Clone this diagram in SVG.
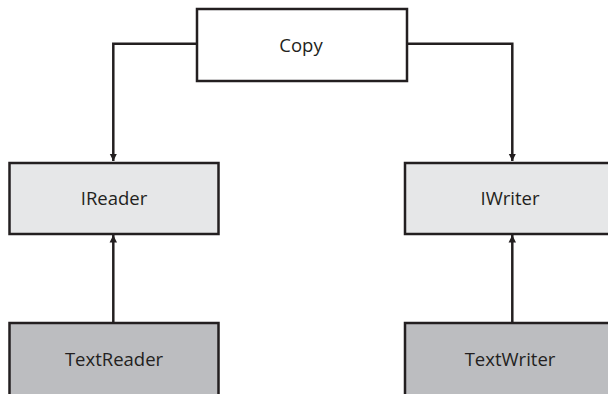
<svg xmlns="http://www.w3.org/2000/svg" width="608" height="394" viewBox="0 0 608 394">
<style>
.box{stroke:#231f20;stroke-width:2.5}
.top{fill:#ffffff}
.mid{fill:#e6e7e8}
.bot{fill:#bcbdc0}
.lbl{font-family:"Open Sans","Noto Sans",sans-serif;font-size:18.5px;fill:#231f20;text-anchor:middle}
.con{fill:none;stroke:#231f20;stroke-width:2.5}
</style>
<defs>
<marker id="ah" viewBox="0 0 10 10" refX="10" refY="5" markerWidth="3" markerHeight="3.2" orient="auto" markerUnits="strokeWidth">
<path d="M0,0 L10,5 L0,10 Z" fill="#231f20"/>
</marker>
</defs>
<g id="connectors">
<path class="con" d="M197,43.7 H113.3 V161" marker-end="url(#ah)"/>
<path class="con" d="M407,43.7 H512.3 V161" marker-end="url(#ah)"/>
<path class="con" d="M113.3,322 V235" marker-end="url(#ah)"/>
<path class="con" d="M512.3,322 V235" marker-end="url(#ah)"/>
</g>
<g id="copy">
<rect class="box top" x="197" y="9" width="210" height="72"/>
<text class="lbl" x="301" y="52">Copy</text>
</g>
<g id="ireader">
<rect class="box mid" x="9.5" y="163" width="209" height="71"/>
<text class="lbl" x="114" y="205">IReader</text>
</g>
<g id="iwriter">
<rect class="box mid" x="405" y="163" width="209" height="71"/>
<text class="lbl" x="510" y="205">IWriter</text>
</g>
<g id="textreader">
<rect class="box bot" x="9.5" y="323" width="209" height="80"/>
<text class="lbl" x="114" y="366">TextReader</text>
</g>
<g id="textwriter">
<rect class="box bot" x="405" y="323" width="209" height="80"/>
<text class="lbl" x="510" y="366">TextWriter</text>
</g>
</svg>
